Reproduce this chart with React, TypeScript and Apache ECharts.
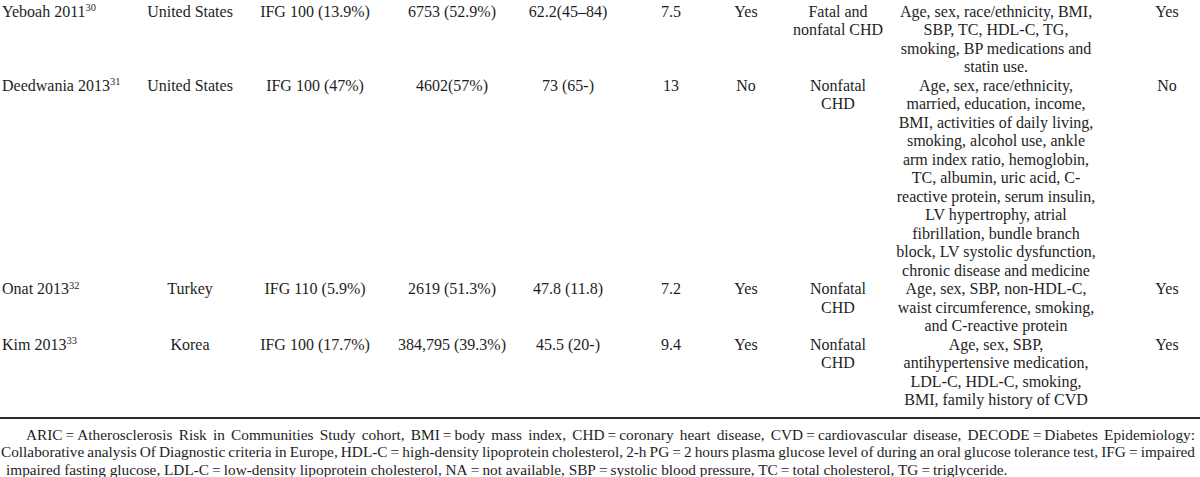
import React, { useEffect, useRef } from 'react';
import * as echarts from 'echarts';

// ---- data ----
const studies = ['Yeboah 2011', 'Deedwania 2013', 'Onat 2013', 'Kim 2013'];
const studyRefs = ['30', '31', '32', '33'];
const countries = ['United States', 'United States', 'Turkey', 'Korea'];
const ifgDefinitions = ['IFG 100 (13.9%)', 'IFG 100 (47%)', 'IFG 110 (5.9%)', 'IFG 100 (17.7%)'];
const participants = ['6753 (52.9%)', '4602(57%)', '2619 (51.3%)', '384,795 (39.3%)'];
const ages = ['62.2(45\u201384)', '73 (65-)', '47.8 (11.8)', '45.5 (20-)'];
const followUps = ['7.5', '13', '7.2', '9.4'];
const adjustedA = ['Yes', 'No', 'Yes', 'Yes'];
const outcomes = [
  ['Fatal and', 'nonfatal CHD'],
  ['Nonfatal', 'CHD'],
  ['Nonfatal', 'CHD'],
  ['Nonfatal', 'CHD'],
];
const covariates = [
  ['Age, sex, race/ethnicity, BMI,', 'SBP, TC, HDL-C, TG,', 'smoking, BP medications and', 'statin use.'],
  [
    'Age, sex, race/ethnicity,',
    'married, education, income,',
    'BMI, activities of daily living,',
    'smoking, alcohol use, ankle',
    'arm index ratio, hemoglobin,',
    'TC, albumin, uric acid, C-',
    'reactive protein, serum insulin,',
    'LV hypertrophy, atrial',
    'fibrillation, bundle branch',
    'block, LV systolic dysfunction,',
    'chronic disease and medicine',
  ],
  ['Age, sex, SBP, non-HDL-C,', 'waist circumference, smoking,', 'and C-reactive protein'],
  ['Age, sex, SBP,', 'antihypertensive medication,', 'LDL-C, HDL-C, smoking,', 'BMI, family history of CVD'],
];
const adjustedB = ['Yes', 'No', 'Yes', 'Yes'];
const footnoteLines = [
  'ARIC\u2009=\u2009Atherosclerosis Risk in Communities Study cohort, BMI\u2009=\u2009body mass index, CHD\u2009=\u2009coronary heart disease, CVD\u2009=\u2009cardiovascular disease, DECODE\u2009=\u2009Diabetes Epidemiology:',
  'Collaborative analysis Of Diagnostic criteria in Europe, HDL-C\u2009=\u2009high-density lipoprotein cholesterol, 2-h PG\u2009=\u20092 hours plasma glucose level of during an oral glucose tolerance test, IFG\u2009=\u2009impaired',
  'impaired fasting glucose, LDL-C\u2009=\u2009low-density lipoprotein cholesterol, NA\u2009=\u2009not available, SBP\u2009=\u2009systolic blood pressure, TC\u2009=\u2009total cholesterol, TG\u2009=\u2009triglyceride.',
];

const FONT = "'Liberation Serif', 'Times New Roman', serif";
const COLOR = '#1e1e1e';

export default function App() {
  const ref = useRef<HTMLDivElement>(null);
  useEffect(() => {
    document.body.style.margin = '0';
    const chart = echarts.init(ref.current!, null, { renderer: 'svg' });
    const canvas = document.createElement('canvas');
    const ctx = canvas.getContext('2d')!;
    const measure = (s: string, size: number) => {
      ctx.font = `${size}px ${FONT}`;
      return ctx.measureText(s).width;
    };

    const FS = 16;
    const Y0 = 11;
    const LH = 18.5;
    const colX = {
      study: 2,
      country: 190,
      ifg: 315,
      part: 452,
      age: 568,
      fu: 671,
      adjA: 746,
      outcome: 838,
      cov: 996,
      adjB: 1167,
    };
    const els: any[] = [];
    const txt = (text: string, x: number, y: number, align = 'center', size = FS, extra: any = {}) => ({
      type: 'text',
      x,
      y,
      silent: true,
      style: {
        text,
        fill: COLOR,
        fontSize: size,
        fontFamily: FONT,
        textAlign: align,
        textVerticalAlign: 'middle',
        ...extra,
      },
    });

    let line = 0;
    studies.forEach((s, i) => {
      const y = Y0 + line * LH;
      els.push(
        txt(`{a|${s}}{s|${studyRefs[i]}}`, colX.study, y, 'left', FS, {
          rich: {
            a: { fontSize: FS, fontFamily: FONT, fill: COLOR, lineHeight: 18 },
            s: { fontSize: 10.5, fontFamily: FONT, fill: COLOR, lineHeight: 8, verticalAlign: 'top' },
          },
        })
      );
      els.push(txt(countries[i], colX.country, y));
      els.push(txt(ifgDefinitions[i], colX.ifg, y));
      els.push(txt(participants[i], colX.part, y));
      els.push(txt(ages[i], colX.age, y));
      els.push(txt(followUps[i], colX.fu, y));
      els.push(txt(adjustedA[i], colX.adjA, y));
      outcomes[i].forEach((o, k) => els.push(txt(o, colX.outcome, y + k * LH)));
      covariates[i].forEach((c, k) => els.push(txt(c, colX.cov, y + k * LH)));
      els.push(txt(adjustedB[i], colX.adjB, y));
      line += covariates[i].length;
    });

    // bottom rule
    els.push({
      type: 'line',
      silent: true,
      shape: { x1: 0, y1: 418, x2: 1200, y2: 418 },
      style: { stroke: '#2a2a2a', lineWidth: 2 },
    });

    // footnote (justified)
    const FFS = 15.3;
    const fnY = [434, 451.5, 469];
    const fnLeft = [26, 1, 6];
    const fnRight = 1195;
    footnoteLines.forEach((ln, i) => {
      if (i === footnoteLines.length - 1) {
        els.push(txt(ln, fnLeft[i], fnY[i], 'left', FFS));
        return;
      }
      const words = ln.split(' ');
      const widths = words.map((w) => measure(w, FFS));
      const total = widths.reduce((a, b) => a + b, 0);
      const gap = Math.max(2, (fnRight - fnLeft[i] - total) / (words.length - 1));
      let x = fnLeft[i];
      words.forEach((w, k) => {
        els.push(txt(w, x, fnY[i], 'left', FFS));
        x += widths[k] + gap;
      });
    });

    chart.setOption({
      animation: false,
      backgroundColor: '#ffffff',
      graphic: { elements: els },
    });
    return () => chart.dispose();
  }, []);
  return <div ref={ref} style={{ width: 1200, height: 477 }} />;
}
